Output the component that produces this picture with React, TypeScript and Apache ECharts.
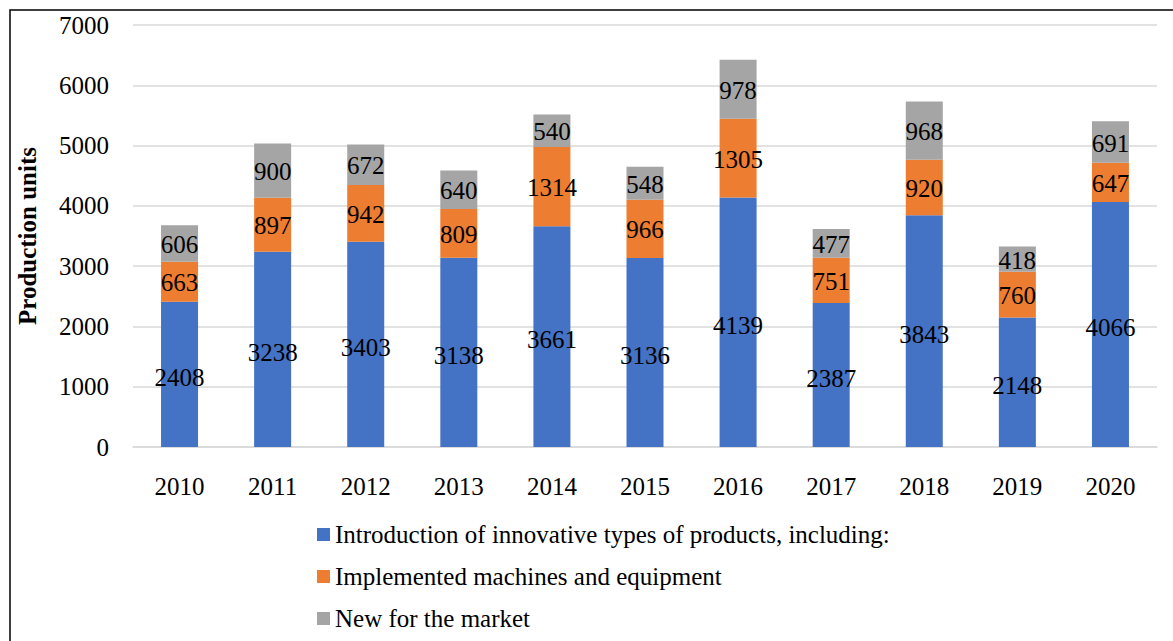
import React, { useEffect, useRef } from "react";
import * as echarts from "echarts";

const years = ["2010", "2011", "2012", "2013", "2014", "2015", "2016", "2017", "2018", "2019", "2020"];
const innovative = [2408, 3238, 3403, 3138, 3661, 3136, 4139, 2387, 3843, 2148, 4066];
const machines = [663, 897, 942, 809, 1314, 966, 1305, 751, 920, 760, 647];
const newMarket = [606, 900, 672, 640, 540, 548, 978, 477, 968, 418, 691];
const seriesNames = [
  "Introduction of innovative types of products, including:",
  "Implemented machines and equipment",
  "New for the market",
];
const colors = ["#4472C4", "#ED7D31", "#A5A5A5"];

const FONT = "Liberation Serif";
const FS = 25;

export default function App() {
  const ref = useRef<HTMLDivElement>(null);
  useEffect(() => {
    document.body.style.margin = "0";
    const chart = echarts.init(ref.current!, null, { renderer: "svg" });
    const mk = (name: string, data: number[], color: string, dy: number) => ({
      name,
      type: "bar",
      stack: "total",
      data,
      barWidth: 37,
      itemStyle: { color },
      label: {
        show: true,
        position: "inside",
        offset: [0, dy],
        color: "#000",
        fontFamily: FONT,
        fontSize: FS,
      },
    });
    chart.setOption({
      animation: false,
      textStyle: { fontFamily: FONT },
      graphic: [
        {
          type: "rect",
          shape: { x: 10, y: 10, width: 1200, height: 700 },
          style: { fill: "none", stroke: "#000", lineWidth: 1.5 },
          z: -10,
        },
      ],
      grid: { left: 133, right: 16, top: 25, bottom: 194 },
      legend: {
        orient: "vertical",
        left: 312,
        top: 517,
        itemWidth: 13,
        itemHeight: 13,
        itemGap: 17,
        icon: "rect",
        textStyle: { fontFamily: FONT, fontSize: FS, color: "#000", lineHeight: 25 },
        data: seriesNames,
      },
      xAxis: {
        type: "category",
        data: years,
        axisLine: { show: true, lineStyle: { color: "#D9D9D9", width: 1.5 } },
        axisTick: { show: false },
        axisLabel: { color: "#000", fontFamily: FONT, fontSize: FS, margin: 27 },
      },
      yAxis: {
        type: "value",
        min: 0,
        max: 7000,
        interval: 1000,
        name: "Production units",
        nameLocation: "middle",
        nameGap: 93,
        nameTextStyle: { fontFamily: FONT, fontSize: FS, fontWeight: "bold", color: "#000" },
        splitLine: { lineStyle: { color: "#D9D9D9", width: 1.5 } },
        axisLabel: {
          color: "#000",
          fontFamily: FONT,
          fontSize: FS,
          margin: 24,
          formatter: (v: number) => String(v),
        },
      },
      series: [
        mk(seriesNames[0], innovative, colors[0], 3),
        mk(seriesNames[1], machines, colors[1], 1),
        mk(seriesNames[2], newMarket, colors[2], 1),
      ],
    });
    return () => chart.dispose();
  }, []);
  return <div ref={ref} style={{ position: "absolute", left: 0, top: 0, width: 1173, height: 641 }} />;
}
